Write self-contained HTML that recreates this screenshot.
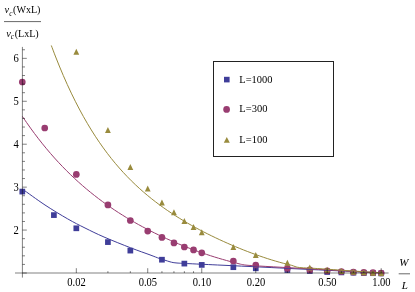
<!DOCTYPE html>
<html><head><meta charset="utf-8"><title>chart</title>
<style>html,body{margin:0;padding:0;background:#fff;}body{width:415px;height:292px;overflow:hidden;font-family:"Liberation Serif",serif;}svg{display:block;}</style>
</head><body>
<svg style="will-change:transform" width="415" height="292" viewBox="0 0 415 292">
<rect width="415" height="292" fill="#fff"/>
<rect x="19.45" y="188.75" width="5.70" height="5.70" fill="#3f3d99"/>
<rect x="51.05" y="212.25" width="5.70" height="5.70" fill="#3f3d99"/>
<rect x="73.47" y="225.45" width="5.70" height="5.70" fill="#3f3d99"/>
<rect x="105.07" y="239.25" width="5.70" height="5.70" fill="#3f3d99"/>
<rect x="127.49" y="247.75" width="5.70" height="5.70" fill="#3f3d99"/>
<rect x="159.09" y="256.85" width="5.70" height="5.70" fill="#3f3d99"/>
<rect x="181.51" y="260.75" width="5.70" height="5.70" fill="#3f3d99"/>
<rect x="198.90" y="262.05" width="5.70" height="5.70" fill="#3f3d99"/>
<rect x="230.50" y="264.35" width="5.70" height="5.70" fill="#3f3d99"/>
<rect x="252.92" y="265.45" width="5.70" height="5.70" fill="#3f3d99"/>
<rect x="284.52" y="267.15" width="5.70" height="5.70" fill="#3f3d99"/>
<rect x="306.94" y="268.15" width="5.70" height="5.70" fill="#3f3d99"/>
<rect x="324.33" y="269.15" width="5.70" height="5.70" fill="#3f3d99"/>
<rect x="338.54" y="269.55" width="5.70" height="5.70" fill="#3f3d99"/>
<rect x="350.55" y="269.85" width="5.70" height="5.70" fill="#3f3d99"/>
<rect x="360.96" y="270.15" width="5.70" height="5.70" fill="#3f3d99"/>
<rect x="370.14" y="270.35" width="5.70" height="5.70" fill="#3f3d99"/>
<rect x="378.35" y="270.55" width="5.70" height="5.70" fill="#3f3d99"/>
<circle cx="22.30" cy="82.00" r="3.35" fill="#993d71"/>
<circle cx="44.72" cy="128.00" r="3.35" fill="#993d71"/>
<circle cx="76.32" cy="174.40" r="3.35" fill="#993d71"/>
<circle cx="107.92" cy="204.90" r="3.35" fill="#993d71"/>
<circle cx="130.34" cy="220.50" r="3.35" fill="#993d71"/>
<circle cx="147.73" cy="231.10" r="3.35" fill="#993d71"/>
<circle cx="161.94" cy="237.40" r="3.35" fill="#993d71"/>
<circle cx="173.95" cy="242.90" r="3.35" fill="#993d71"/>
<circle cx="184.36" cy="247.00" r="3.35" fill="#993d71"/>
<circle cx="193.54" cy="249.90" r="3.35" fill="#993d71"/>
<circle cx="201.75" cy="252.80" r="3.35" fill="#993d71"/>
<circle cx="233.35" cy="261.00" r="3.35" fill="#993d71"/>
<circle cx="255.77" cy="265.00" r="3.35" fill="#993d71"/>
<circle cx="287.37" cy="268.40" r="3.35" fill="#993d71"/>
<circle cx="309.79" cy="269.90" r="3.35" fill="#993d71"/>
<circle cx="327.18" cy="270.80" r="3.35" fill="#993d71"/>
<circle cx="341.39" cy="271.50" r="3.35" fill="#993d71"/>
<circle cx="353.40" cy="272.10" r="3.35" fill="#993d71"/>
<circle cx="363.81" cy="272.40" r="3.35" fill="#993d71"/>
<circle cx="372.99" cy="272.70" r="3.35" fill="#993d71"/>
<circle cx="381.20" cy="273.00" r="3.35" fill="#993d71"/>
<path d="M76.32 48.85 L79.22 54.85 L73.42 54.85 Z" fill="#998b3d"/>
<path d="M107.92 126.90 L110.82 132.90 L105.02 132.90 Z" fill="#998b3d"/>
<path d="M130.34 163.90 L133.24 169.90 L127.44 169.90 Z" fill="#998b3d"/>
<path d="M147.73 185.60 L150.63 191.60 L144.83 191.60 Z" fill="#998b3d"/>
<path d="M161.94 199.40 L164.84 205.40 L159.04 205.40 Z" fill="#998b3d"/>
<path d="M173.95 209.20 L176.85 215.20 L171.05 215.20 Z" fill="#998b3d"/>
<path d="M184.36 217.90 L187.26 223.90 L181.46 223.90 Z" fill="#998b3d"/>
<path d="M193.54 223.90 L196.44 229.90 L190.64 229.90 Z" fill="#998b3d"/>
<path d="M201.75 229.20 L204.65 235.20 L198.85 235.20 Z" fill="#998b3d"/>
<path d="M233.35 244.00 L236.25 250.00 L230.45 250.00 Z" fill="#998b3d"/>
<path d="M255.77 252.10 L258.67 258.10 L252.87 258.10 Z" fill="#998b3d"/>
<path d="M287.37 259.80 L290.27 265.80 L284.47 265.80 Z" fill="#998b3d"/>
<path d="M309.79 264.50 L312.69 270.50 L306.89 270.50 Z" fill="#998b3d"/>
<path d="M327.18 266.80 L330.08 272.80 L324.28 272.80 Z" fill="#998b3d"/>
<path d="M341.39 268.00 L344.29 274.00 L338.49 274.00 Z" fill="#998b3d"/>
<path d="M353.40 268.80 L356.30 274.80 L350.50 274.80 Z" fill="#998b3d"/>
<path d="M363.81 269.30 L366.71 275.30 L360.91 275.30 Z" fill="#998b3d"/>
<path d="M372.99 269.70 L375.89 275.70 L370.09 275.70 Z" fill="#998b3d"/>
<path d="M381.20 270.00 L384.10 276.00 L378.30 276.00 Z" fill="#998b3d"/>
<path d="M22.50 189.10 C26.25 191.75 37.47 200.03 45.00 205.00 C52.53 209.97 61.03 215.07 67.70 218.90 C74.37 222.73 78.95 224.98 85.00 228.00 C91.05 231.02 96.40 233.70 104.00 237.00 C111.60 240.30 122.93 244.82 130.60 247.80 C138.27 250.78 145.23 253.13 150.00 254.90 C154.77 256.67 156.72 257.52 159.20 258.40 C161.68 259.28 163.10 259.63 164.90 260.20 C166.70 260.77 168.63 261.41 170.00 261.80 C171.37 262.19 171.93 262.35 173.10 262.55 C174.27 262.75 175.55 262.88 177.00 263.00 C178.45 263.12 179.63 263.18 181.80 263.30 C183.97 263.42 183.30 263.38 190.00 263.70 C196.70 264.02 210.00 264.63 222.00 265.20 C234.00 265.77 249.33 266.48 262.00 267.10 C274.67 267.72 285.00 268.27 298.00 268.90 C311.00 269.53 326.13 270.23 340.00 270.90 C353.87 271.57 374.33 272.57 381.20 272.90" fill="none" stroke="#3f3d99" stroke-width="1"/>
<path d="M22.50 116.54 C23.17 117.52 25.17 120.49 26.50 122.41 C27.83 124.33 29.17 126.22 30.50 128.07 C31.83 129.92 33.17 131.74 34.50 133.52 C35.83 135.31 37.17 137.06 38.50 138.78 C39.83 140.50 41.17 142.19 42.50 143.85 C43.83 145.51 45.17 147.13 46.50 148.73 C47.83 150.33 49.17 151.90 50.50 153.45 C51.83 154.99 53.17 156.50 54.50 157.99 C55.83 159.47 57.17 160.93 58.50 162.37 C59.83 163.80 61.17 165.21 62.50 166.59 C63.83 167.98 65.17 169.33 66.50 170.67 C67.83 172.00 69.17 173.31 70.50 174.60 C71.83 175.89 73.17 177.15 74.50 178.40 C75.83 179.64 77.17 180.86 78.50 182.06 C79.83 183.26 81.17 184.44 82.50 185.60 C83.83 186.76 85.17 187.90 86.50 189.02 C87.83 190.14 89.17 191.24 90.50 192.32 C91.83 193.40 93.17 194.47 94.50 195.51 C95.83 196.56 97.17 197.59 98.50 198.60 C99.83 199.61 101.17 200.61 102.50 201.59 C103.83 202.56 105.17 203.53 106.50 204.47 C107.83 205.42 109.17 206.35 110.50 207.27 C111.83 208.19 113.17 209.09 114.50 209.98 C115.83 210.87 117.17 211.74 118.50 212.60 C119.83 213.46 121.17 214.31 122.50 215.14 C123.83 215.98 125.17 216.80 126.50 217.61 C127.83 218.42 129.17 219.21 130.50 220.00 C131.83 220.78 133.17 221.56 134.50 222.32 C135.83 223.08 137.17 223.83 138.50 224.57 C139.83 225.31 141.17 226.04 142.50 226.75 C143.83 227.47 145.17 228.18 146.50 228.88 C147.83 229.58 149.17 230.26 150.50 230.94 C151.83 231.62 153.17 232.29 154.50 232.95 C155.83 233.61 157.17 234.25 158.50 234.90 C159.83 235.54 161.17 236.17 162.50 236.79 C163.83 237.41 165.17 238.03 166.50 238.63 C167.83 239.24 169.17 239.83 170.50 240.42 C171.83 241.01 173.17 241.59 174.50 242.16 C175.83 242.74 177.17 243.30 178.50 243.86 C179.83 244.41 181.17 244.96 182.50 245.50 C183.83 246.04 185.17 246.57 186.50 247.10 C187.83 247.62 189.17 248.14 190.50 248.65 C191.83 249.15 193.17 249.66 194.50 250.15 C195.83 250.64 197.17 251.13 198.50 251.61 C199.83 252.09 201.17 252.56 202.50 253.02 C203.83 253.48 205.17 253.94 206.50 254.38 C207.83 254.83 209.17 255.27 210.50 255.70 C211.83 256.13 213.17 256.56 214.50 256.97 C215.83 257.39 217.17 257.80 218.50 258.20 C219.83 258.60 221.17 258.99 222.50 259.37 C223.83 259.75 225.17 260.13 226.50 260.49 C227.83 260.86 229.17 261.22 230.50 261.57 C231.83 261.92 233.08 262.21 234.50 262.59 C235.92 262.96 237.83 263.50 239.00 263.80 C240.17 264.10 240.63 264.22 241.50 264.40 C242.37 264.58 243.12 264.75 244.20 264.90 C245.28 265.05 246.60 265.18 248.00 265.30 C249.40 265.42 250.27 265.45 252.60 265.60 C254.93 265.75 254.43 265.77 262.00 266.20 C269.57 266.63 285.00 267.47 298.00 268.20 C311.00 268.93 326.13 269.82 340.00 270.60 C353.87 271.38 374.33 272.52 381.20 272.90" fill="none" stroke="#993d71" stroke-width="1"/>
<path d="M51.30 45.48 C51.97 47.24 53.97 52.59 55.30 56.02 C56.63 59.44 57.97 62.78 59.30 66.03 C60.63 69.28 61.97 72.45 63.30 75.54 C64.63 78.63 65.97 81.64 67.30 84.57 C68.63 87.51 69.97 90.36 71.30 93.15 C72.63 95.94 73.97 98.65 75.30 101.29 C76.63 103.94 77.97 106.51 79.30 109.03 C80.63 111.54 81.97 113.98 83.30 116.37 C84.63 118.75 85.97 121.07 87.30 123.34 C88.63 125.61 89.97 127.81 91.30 129.96 C92.63 132.12 93.97 134.21 95.30 136.25 C96.63 138.30 97.97 140.29 99.30 142.23 C100.63 144.18 101.97 146.07 103.30 147.91 C104.63 149.76 105.97 151.56 107.30 153.32 C108.63 155.07 109.97 156.79 111.30 158.46 C112.63 160.13 113.97 161.76 115.30 163.35 C116.63 164.94 117.97 166.50 119.30 168.01 C120.63 169.53 121.97 171.01 123.30 172.46 C124.63 173.91 125.97 175.32 127.30 176.70 C128.63 178.08 129.97 179.43 131.30 180.75 C132.63 182.07 133.97 183.35 135.30 184.62 C136.63 185.88 137.97 187.11 139.30 188.32 C140.63 189.52 141.97 190.70 143.30 191.86 C144.63 193.02 145.97 194.15 147.30 195.26 C148.63 196.37 149.97 197.45 151.30 198.52 C152.63 199.59 153.97 200.63 155.30 201.65 C156.63 202.68 157.97 203.68 159.30 204.67 C160.63 205.65 161.97 206.62 163.30 207.56 C164.63 208.51 165.97 209.44 167.30 210.36 C168.63 211.27 169.97 212.17 171.30 213.05 C172.63 213.94 173.97 214.80 175.30 215.66 C176.63 216.51 177.97 217.35 179.30 218.17 C180.63 218.99 181.97 219.80 183.30 220.60 C184.63 221.40 185.97 222.19 187.30 222.96 C188.63 223.73 189.97 224.49 191.30 225.24 C192.63 225.99 193.97 226.73 195.30 227.46 C196.63 228.19 197.97 228.90 199.30 229.61 C200.63 230.32 201.97 231.02 203.30 231.71 C204.63 232.39 205.97 233.07 207.30 233.74 C208.63 234.41 209.97 235.07 211.30 235.72 C212.63 236.38 213.97 237.02 215.30 237.65 C216.63 238.29 217.97 238.92 219.30 239.54 C220.63 240.15 221.97 240.77 223.30 241.37 C224.63 241.97 225.97 242.57 227.30 243.16 C228.63 243.75 229.97 244.33 231.30 244.90 C232.63 245.47 233.97 246.04 235.30 246.60 C236.63 247.16 237.97 247.71 239.30 248.25 C240.63 248.80 241.97 249.33 243.30 249.86 C244.63 250.39 245.97 250.91 247.30 251.43 C248.63 251.94 249.97 252.45 251.30 252.95 C252.63 253.45 253.97 253.94 255.30 254.42 C256.63 254.91 257.97 255.38 259.30 255.85 C260.63 256.32 261.97 256.77 263.30 257.22 C264.63 257.67 265.97 258.12 267.30 258.55 C268.63 258.98 269.97 259.40 271.30 259.82 C272.63 260.23 273.97 260.63 275.30 261.03 C276.63 261.42 277.97 261.80 279.30 262.18 C280.63 262.55 281.97 262.91 283.30 263.26 C284.63 263.61 285.97 263.95 287.30 264.28 C288.63 264.60 290.02 264.85 291.30 265.22 C292.58 265.59 294.00 266.17 295.00 266.50 C296.00 266.83 296.13 266.99 297.30 267.20 C298.47 267.41 300.07 267.60 302.00 267.75 C303.93 267.90 305.90 267.94 308.90 268.10 C311.90 268.26 313.15 268.25 320.00 268.70 C326.85 269.15 339.80 270.10 350.00 270.80 C360.20 271.50 376.00 272.55 381.20 272.90" fill="none" stroke="#998b3d" stroke-width="1"/>
<g stroke="#000" stroke-width="0.5" fill="none">
<line x1="15" y1="273.00" x2="388.6" y2="273.00"/>
<line x1="22.40" y1="46.9" x2="22.40" y2="277.6"/>
<line x1="22.40" y1="273.00" x2="26.80" y2="273.00"/>
<line x1="22.40" y1="264.41" x2="25.00" y2="264.41"/>
<line x1="22.40" y1="255.83" x2="25.00" y2="255.83"/>
<line x1="22.40" y1="247.24" x2="25.00" y2="247.24"/>
<line x1="22.40" y1="238.66" x2="25.00" y2="238.66"/>
<line x1="22.40" y1="230.07" x2="26.80" y2="230.07"/>
<line x1="22.40" y1="221.48" x2="25.00" y2="221.48"/>
<line x1="22.40" y1="212.90" x2="25.00" y2="212.90"/>
<line x1="22.40" y1="204.31" x2="25.00" y2="204.31"/>
<line x1="22.40" y1="195.73" x2="25.00" y2="195.73"/>
<line x1="22.40" y1="187.14" x2="26.80" y2="187.14"/>
<line x1="22.40" y1="178.55" x2="25.00" y2="178.55"/>
<line x1="22.40" y1="169.97" x2="25.00" y2="169.97"/>
<line x1="22.40" y1="161.38" x2="25.00" y2="161.38"/>
<line x1="22.40" y1="152.80" x2="25.00" y2="152.80"/>
<line x1="22.40" y1="144.21" x2="26.80" y2="144.21"/>
<line x1="22.40" y1="135.62" x2="25.00" y2="135.62"/>
<line x1="22.40" y1="127.04" x2="25.00" y2="127.04"/>
<line x1="22.40" y1="118.45" x2="25.00" y2="118.45"/>
<line x1="22.40" y1="109.87" x2="25.00" y2="109.87"/>
<line x1="22.40" y1="101.28" x2="26.80" y2="101.28"/>
<line x1="22.40" y1="92.69" x2="25.00" y2="92.69"/>
<line x1="22.40" y1="84.11" x2="25.00" y2="84.11"/>
<line x1="22.40" y1="75.52" x2="25.00" y2="75.52"/>
<line x1="22.40" y1="66.94" x2="25.00" y2="66.94"/>
<line x1="22.40" y1="58.35" x2="26.80" y2="58.35"/>
<line x1="22.40" y1="49.76" x2="25.00" y2="49.76"/>
<line x1="76.32" y1="273.00" x2="76.32" y2="268.20"/>
<line x1="147.73" y1="273.00" x2="147.73" y2="268.20"/>
<line x1="201.75" y1="273.00" x2="201.75" y2="268.20"/>
<line x1="255.77" y1="273.00" x2="255.77" y2="268.20"/>
<line x1="327.18" y1="273.00" x2="327.18" y2="268.20"/>
<line x1="381.20" y1="273.00" x2="381.20" y2="268.20"/>
<line x1="107.92" y1="273.00" x2="107.92" y2="271.20"/>
<line x1="130.34" y1="273.00" x2="130.34" y2="271.20"/>
<line x1="161.94" y1="273.00" x2="161.94" y2="271.20"/>
<line x1="173.95" y1="273.00" x2="173.95" y2="271.20"/>
<line x1="184.36" y1="273.00" x2="184.36" y2="271.20"/>
<line x1="193.54" y1="273.00" x2="193.54" y2="271.20"/>
<line x1="287.37" y1="273.00" x2="287.37" y2="271.20"/>
<line x1="309.79" y1="273.00" x2="309.79" y2="271.20"/>
<line x1="341.39" y1="273.00" x2="341.39" y2="271.20"/>
<line x1="353.40" y1="273.00" x2="353.40" y2="271.20"/>
<line x1="363.81" y1="273.00" x2="363.81" y2="271.20"/>
<line x1="372.99" y1="273.00" x2="372.99" y2="271.20"/>
</g>
<rect x="213.5" y="61.5" width="120" height="95" fill="#fff" stroke="#222" stroke-width="1"/>
<rect x="224.00" y="76.80" width="5.60" height="5.60" fill="#3f3d99"/>
<circle cx="226.60" cy="109.40" r="3.35" fill="#993d71"/>
<path d="M226.80 137.00 L229.80 142.80 L223.80 142.80 Z" fill="#998b3d"/>
<g font-family="Liberation Serif, serif" font-size="11" fill="#000">
<text x="239.3" y="82.9" textLength="33.2" lengthAdjust="spacingAndGlyphs">L=1000</text>
<text x="239.3" y="112.2" textLength="28.1" lengthAdjust="spacingAndGlyphs">L=300</text>
<text x="239.3" y="142.8" textLength="28.1" lengthAdjust="spacingAndGlyphs">L=100</text>
<text x="76.52" y="285.8" font-size="11.6" textLength="18.4" lengthAdjust="spacingAndGlyphs" text-anchor="middle">0.02</text>
<text x="147.93" y="285.8" font-size="11.6" textLength="18.4" lengthAdjust="spacingAndGlyphs" text-anchor="middle">0.05</text>
<text x="201.95" y="285.8" font-size="11.6" textLength="18.4" lengthAdjust="spacingAndGlyphs" text-anchor="middle">0.10</text>
<text x="255.97" y="285.8" font-size="11.6" textLength="18.4" lengthAdjust="spacingAndGlyphs" text-anchor="middle">0.20</text>
<text x="327.38" y="285.8" font-size="11.6" textLength="18.4" lengthAdjust="spacingAndGlyphs" text-anchor="middle">0.50</text>
<text x="381.40" y="285.8" font-size="11.6" textLength="18.4" lengthAdjust="spacingAndGlyphs" text-anchor="middle">1.00</text>
<text x="18.9" y="233.87" font-size="11.6" textLength="5.3" lengthAdjust="spacingAndGlyphs" text-anchor="end">2</text>
<text x="18.9" y="190.94" font-size="11.6" textLength="5.3" lengthAdjust="spacingAndGlyphs" text-anchor="end">3</text>
<text x="18.9" y="148.01" font-size="11.6" textLength="5.3" lengthAdjust="spacingAndGlyphs" text-anchor="end">4</text>
<text x="18.9" y="105.08" font-size="11.6" textLength="5.3" lengthAdjust="spacingAndGlyphs" text-anchor="end">5</text>
<text x="18.9" y="62.15" font-size="11.6" textLength="5.3" lengthAdjust="spacingAndGlyphs" text-anchor="end">6</text>
<text x="4.6" y="13.4" font-size="10.4"><tspan font-style="italic">v</tspan><tspan font-style="italic" font-size="7.2" dy="2.1">c</tspan><tspan dy="-2.1" dx="0.6" font-size="10.1">(WxL)</tspan></text>
<text x="6.2" y="36.9" font-size="10.4"><tspan font-style="italic">v</tspan><tspan font-style="italic" font-size="7.2" dy="2.1">c</tspan><tspan dy="-2.1" dx="0.6" font-size="10.1">(LxL)</tspan></text>
<text x="403.9" y="265.5" font-style="italic" text-anchor="middle">W</text>
<text x="404.7" y="289.0" font-style="italic" text-anchor="middle">L</text>
</g>
<line x1="4" y1="21.6" x2="41" y2="21.6" stroke="#000" stroke-width="0.6"/>
<line x1="398.7" y1="273.8" x2="410" y2="273.8" stroke="#000" stroke-width="0.6"/>
</svg>
</body></html>
